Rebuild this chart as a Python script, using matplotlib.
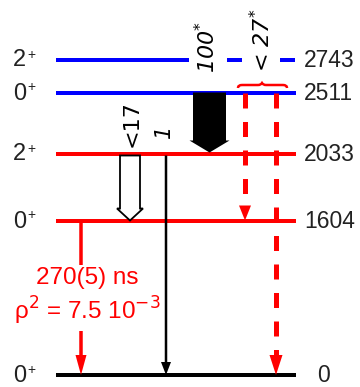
import matplotlib
matplotlib.use("Agg")
import matplotlib.pyplot as plt
from matplotlib.patches import FancyArrow, PathPatch
from matplotlib.path import Path

plt.rcParams['font.family'] = ['Liberation Sans', 'DejaVu Sans']
plt.rcParams['mathtext.fontset'] = 'dejavusans'
plt.rcParams['lines.scale_dashes'] = False

# level scheme (keV), drawn with schematic spacing
energies = [0, 1604, 2033, 2511, 2743]
spins = ['0', '0', '2', '0', '2']
parities = ['+', '+', '+', '+', '+']
level_colors = ['black', 'red', 'red', 'blue', 'blue']
level_y = [375, 220.5, 153.5, 92.5, 59.5]

# gamma / E0 transitions: (initial, final) level index
gamma_thin = (2, 0)
gamma_open = (2, 1)
gamma_big = (3, 2)
e0_dashed = [(3, 1), (3, 0)]
e0_solid = (1, 0)
intensity_labels = ['1', '<17', r'$\mathregular{100^{*}}$', r'< $\mathregular{27^{*}}$']
lifetime = '270(5) ns'
rho2 = r'ρ$^{2}$ = 7.5 10$^{-3}$'

PX = 0.72  # points per pixel at dpi 100
TXT = '#222222'

fig = plt.figure(figsize=(3.6, 3.87), dpi=100)
ax = fig.add_axes([0, 0, 1, 1])
ax.set_xlim(0, 360)
ax.set_ylim(387, 0)
ax.axis('off')

x0, x1 = 56, 296
for i, (e, s, p, c, y) in enumerate(zip(energies, spins, parities, level_colors, level_y)):
    if i == len(energies) - 1:
        # top level: solid part then dashed continuation
        ax.plot([x0, 186], [y, y], color=c, lw=4 * PX, solid_capstyle='butt')
        ax.plot([174, x1], [y, y], color=c, lw=4 * PX, dashes=(15 * PX, 11.5 * PX),
                dash_capstyle='butt')
    else:
        ax.plot([x0, x1], [y, y], color=c, lw=4 * PX, solid_capstyle='butt')
    ax.text(13, y + 1, s, fontsize=17, color=TXT, ha='left', va='center')
    ax.text(27.5, y - 5, p, fontsize=10, color=TXT, ha='left', va='center')
    ax.text(317 if e == 0 else 304, y + 1, str(e), fontsize=16.5, color=TXT,
            ha='left', va='center')

# thin black gamma 2033 -> 0
yi, yf = level_y[gamma_thin[0]], level_y[gamma_thin[1]]
ax.add_patch(FancyArrow(166, yi + 2, 0, yf - yi - 2, width=2.5, head_width=10,
                        head_length=13, length_includes_head=True,
                        color='black', lw=0, zorder=6))

# open arrow 2033 -> 1604
yi, yf = level_y[gamma_open[0]], level_y[gamma_open[1]]
ax.add_patch(FancyArrow(130, yi + 2, 0, yf - yi - 2, width=20, head_width=26,
                        head_length=12, length_includes_head=True,
                        fc='white', ec='black', lw=1.3, zorder=3))

# strong gamma 2511 -> 2033
yi, yf = level_y[gamma_big[0]], level_y[gamma_big[1]]
ax.add_patch(FancyArrow(209.5, yi, 0, yf - yi - 1, width=33, head_width=40,
                        head_length=12, length_includes_head=True,
                        color='black', lw=0, zorder=3))

# dashed E0 branches from 2511
for (i, f), x, hl, hw in zip(e0_dashed, [245, 276], [15, 20], [12, 13]):
    yi, yf = level_y[i], level_y[f]
    ax.plot([x, x], [yi, yf - hl], color='red', lw=5 * PX,
            dashes=(15 * PX, 13.5 * PX), dash_capstyle='butt', zorder=3)
    ax.add_patch(FancyArrow(x, yf - hl, 0, hl, width=0.5, head_width=hw,
                            head_length=hl, length_includes_head=True,
                            color='red', lw=0, zorder=3))

# brace over the two E0 branches
bx0, bx1, by = 238, 287, 85
verts = [(bx0, by + 3), (bx0, by), (bx0 + 4, by), (258, by), (261, by), (262, by - 2),
         (263, by), (266, by), (bx1 - 4, by), (bx1, by), (bx1, by + 3)]
codes = [Path.MOVETO, Path.CURVE3, Path.CURVE3, Path.LINETO, Path.CURVE3, Path.CURVE3,
         Path.CURVE3, Path.CURVE3, Path.LINETO, Path.CURVE3, Path.CURVE3]
ax.add_patch(PathPatch(Path(verts, codes), fc='none', ec='red', lw=2.5 * PX, zorder=3))

# E0 1604 -> 0
yi, yf = level_y[e0_solid[0]], level_y[e0_solid[1]]
ax.add_patch(FancyArrow(81, yi, 0, yf - yi, width=3.5, head_width=11,
                        head_length=20, length_includes_head=True,
                        color='red', lw=0, zorder=3))
ax.text(87, 297, lifetime + '\n' + rho2, fontsize=17.5, color='red', ha='center',
        va='center', multialignment='center', linespacing=1.25, zorder=5,
        bbox=dict(fc='white', ec='none', pad=3))

# intensities
lab_kw = dict(rotation=90, ha='center', va='center', color='black', zorder=5,
              family='DejaVu Sans', style='italic')
ax.text(164, 131, intensity_labels[0], fontsize=15, **lab_kw)
ax.text(132, 124, intensity_labels[1], fontsize=16,
        **{**lab_kw, 'style': 'normal'})
ax.text(207, 47, intensity_labels[2], fontsize=16,
        bbox=dict(fc='white', ec='none', pad=1), **lab_kw)
ax.text(262, 40, intensity_labels[3], fontsize=16,
        bbox=dict(fc='white', ec='none', pad=1), **lab_kw)

fig.savefig('out.png', dpi=100)
